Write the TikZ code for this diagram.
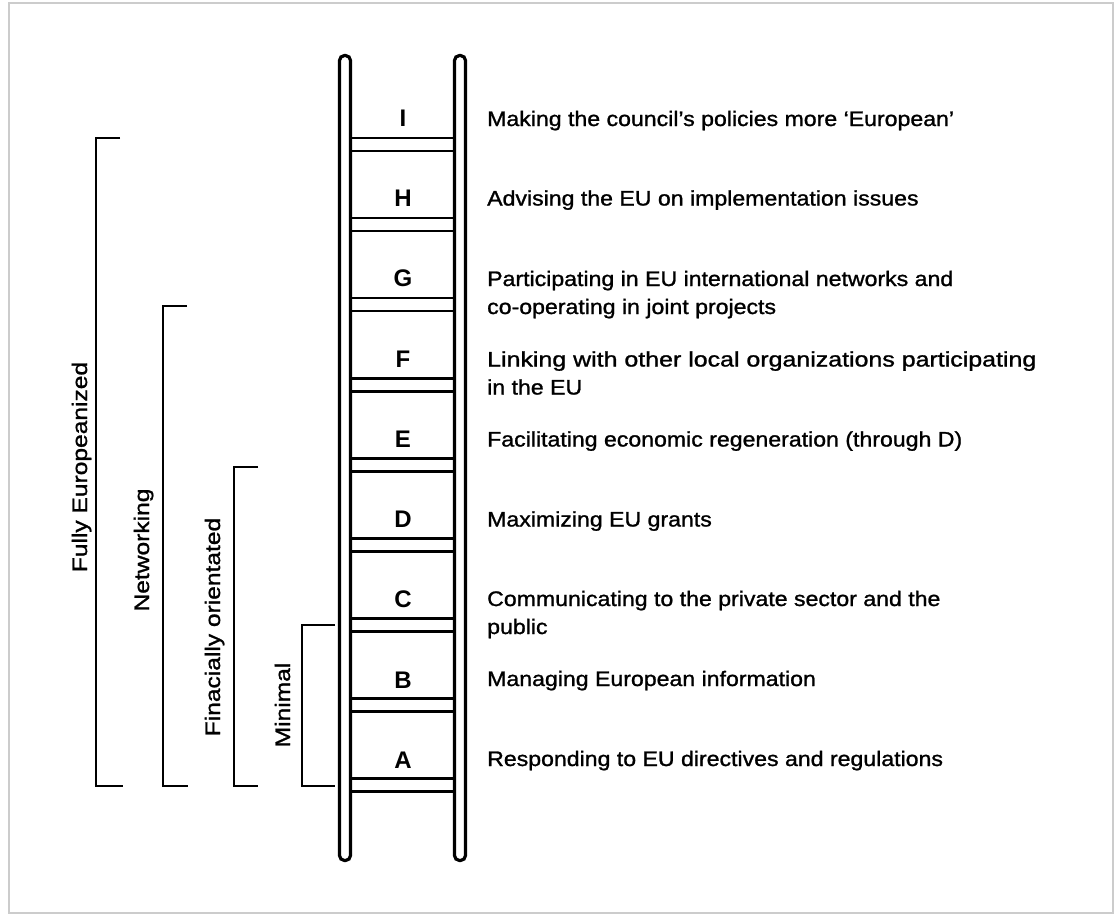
\documentclass[tikz,border=0pt]{standalone}
\usepackage{fontspec}
\newfontfamily\txtfont{Liberation Sans}[FakeStretch=1.10,FakeBold=1.2]
\newfontfamily\lblfont{Liberation Sans}[FakeStretch=1.17,FakeBold=1.2]
\newfontfamily\letfont{Liberation Sans}
\tikzset{
  rail/.style={line width=3.2pt, rounded corners=5pt},
  rung/.style={line width=2.7pt},
  bracket/.style={line width=2.9pt},
  steptext/.style={anchor=base west, inner sep=0pt, font=\txtfont\fontsize{21}{28}\selectfont},
  steplet/.style={inner sep=0pt, font=\letfont\bfseries\fontsize{24}{28}\selectfont},
  levlabel/.style={rotate=90, anchor=base, inner sep=0pt, font=\lblfont\fontsize{21}{26}\selectfont},
}
\begin{document}
\begin{tikzpicture}[x=1pt,y=-1pt]
\useasboundingbox (0,0) rectangle (1120,916);
\fill[white] (0,0) rectangle (1120,916);
\draw[gray!40, line width=1.2pt] (9,3) rectangle (1113,913);
% rails
\draw[rail] (339.5,55.5) rectangle (350.5,860.5);
\draw[rail] (454.5,55.5) rectangle (465.5,860.5);
% rungs
\foreach \k in {0,...,8}{
  \pgfmathsetmacro{\yc}{144.5+80.06*\k}
  \draw[rung] (350.5,\yc-6.5) -- (454.5,\yc-6.5);
  \draw[rung] (350.5,\yc+6.5) -- (454.5,\yc+6.5);
}
% letters
\node[steplet] (lI) at (403,118) {I};
\node[steplet] (lH) at (403,198) {H};
\node[steplet] (lG) at (403,278) {G};
\node[steplet] (lF) at (403,359) {F};
\node[steplet] (lE) at (403,439) {E};
\node[steplet] (lD) at (403,519) {D};
\node[steplet] (lC) at (403,599) {C};
\node[steplet] (lB) at (403,680) {B};
\node[steplet] (lA) at (403,760) {A};
% texts
\node[steptext] (tI) at (487,126) {Making the council’s policies more ‘European’};
\node[steptext] (tH) at (487,205.5) {Advising the EU on implementation issues};
\node[steptext] (tG) at (487,286) {\parbox[t]{600pt}{\raggedright Participating in EU international networks and\\co-operating in joint projects}};
\node[steptext] (tF) at (487,366.5) {\parbox[t]{600pt}{\raggedright \scalebox{1.08}[1]{Linking with other local organizations participating}\\in the EU}};
\node[steptext] (tE) at (487,446.5) {Facilitating economic regeneration (through D)};
\node[steptext] (tD) at (487,526.5) {Maximizing EU grants};
\node[steptext] (tC) at (487,606) {\parbox[t]{600pt}{\raggedright Communicating to the private sector and the\\public}};
\node[steptext] (tB) at (487,686) {Managing European information};
\node[steptext] (tA) at (487,766) {Responding to EU directives and regulations};
% brackets
\draw[bracket] (120,138) -- (96,138) -- (96,786) -- (123,786);
\draw[bracket] (187,306) -- (163,306) -- (163,786) -- (188,786);
\draw[bracket] (258,467) -- (234,467) -- (234,786) -- (258,786);
\draw[bracket] (335,625) -- (302,625) -- (302,786) -- (335,786);
% labels
\node[levlabel] (fully) at (87,467) {Fully Europeanized};
\node[levlabel] (netw) at (149,550) {Networking};
\node[levlabel] (fin) at (220,627) {Finacially orientated};
\node[levlabel] (mini) at (290,705) {Minimal};
\end{tikzpicture}
\end{document}
